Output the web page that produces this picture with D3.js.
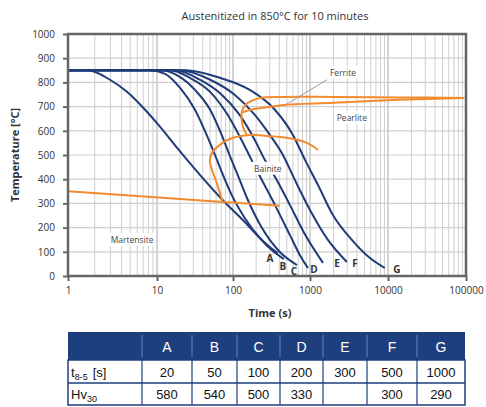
<!DOCTYPE html>
<html>
<head>
<meta charset="utf-8">
<script src="https://cdn.jsdelivr.net/npm/d3@7/dist/d3.min.js"></script>
<style>
  body { margin: 0; background: #fff; }
  svg { display: block; }
</style>
</head>
<body>
<div id="chart"></div>
<script>
// cooling curves, [time s, temperature °C]
const curveA = [[1,850],[1.67,850],[2.96,811],[4.6,761],[7,695],[11,616],[18.4,529],[36.7,418],[73,314],[142,223],[223,157],[320,112],[383,95]];
const curveB = [[1,850],[8.4,850],[12.8,835],[20,778],[31.6,687],[45,583],[58,500],[71,430],[96,335],[142,240],[223,157],[330,103],[458,70]];
const curveC = [[1,850],[11,850],[19,827],[31.6,769],[50,687],[71,583],[90,500],[115,418],[156,314],[237,199],[406,99],[677,45]];
const curveD = [[1,850],[15,850],[27,819],[50,761],[85,666],[129,562],[174,480],[237,397],[350,294],[547,170],[737,87],[942,33]];
const curveE = [[1,850],[17.4,850],[36.7,811],[71,749],[122,666],[192,562],[259,480],[370,397],[547,294],[866,170],[1466,54]];
const curveF = [[1,850],[20,850],[50,811],[105,749],[192,666],[301,583],[445,500],[636,397],[1000,273],[1700,149],[2970,58]];
const curveG = [[1,850],[23.5,850],[67,819],[165,769],[350,687],[600,583],[861,480],[1266,376],[1966,252],[3440,149],[5870,74],[9100,33]];
const curveNames = ['A','B','C','D','E','F','G'];

// transformation lines
const martensite = [[1,350],[73,306],[406,290]];
const bainite = [[73,306],[61,385],[53,438],[49.6,480],[54,513],[67,542],[99,571],[165,583],[275,579],[501,571],[913,550],[1266,521]];
const ferrite = [[95000,736],[14000,738],[2000,740],[450,740],[230,736],[175,724],[150,712],[135,692],[129,670],[130,640],[137,610],[150,585]];
const pearlite = [[95000,736],[14000,728],[2000,716],[450,707],[275,697],[165,686],[132,676]];

const regionNames = ['Martensite','Bainite','Pearlite','Ferrite'];
const regionPos = [[5.25,149],[283,443],[3440,653],[2650,840]];
const ferritePointer = [[1650,811],[502,711]];

const xTicks = [1,10,100,1000,10000,100000];
const yTicks = [0,100,200,300,400,500,600,700,800,900,1000];

// table
const t85 = ['20','50','100','200','300','500','1000'];
const hv30 = ['580','540','500','330','','300','290'];

const W = 486, H = 407;
const plot = {left: 68, right: 466, top: 34, bottom: 276};

const svg = d3.select('#chart').append('svg')
    .attr('width', W)
    .attr('height', H);

// the original axis is not evenly spaced, so one range stop per decade
const x = d3.scaleLog()
    .domain(xTicks)
    .range([68, 157, 233, 310, 388, 466]);
const y = d3.scaleLinear()
    .domain([0, 1000])
    .range([plot.bottom, plot.top]);

// grid
let minor = [];
for (let d = 1; d < 100000; d *= 10) {
    for (let k = 2; k <= 9; k++) minor.push(d * k);
}
const grid = svg.append('g');
grid.selectAll('.vminor')
    .data(minor)
    .join('line')
    .attr('x1', d => x(d)).attr('x2', d => x(d))
    .attr('y1', plot.top).attr('y2', plot.bottom)
    .attr('stroke', '#d0d0d0').attr('stroke-width', 1);
grid.selectAll('.vmajor')
    .data(xTicks.slice(1, -1))
    .join('line')
    .attr('x1', d => x(d)).attr('x2', d => x(d))
    .attr('y1', plot.top).attr('y2', plot.bottom)
    .attr('stroke', '#c4c4c4').attr('stroke-width', 1.5);
grid.selectAll('.h')
    .data(yTicks.slice(1, -1))
    .join('line')
    .attr('x1', plot.left).attr('x2', plot.right)
    .attr('y1', d => y(d)).attr('y2', d => y(d))
    .attr('stroke', '#d0d0d0').attr('stroke-width', 1.2);

// curves
const line = d3.line()
    .x(d => x(d[0]))
    .y(d => y(d[1]))
    .curve(d3.curveMonotoneX);
const loop = d3.line()
    .x(d => x(d[0]))
    .y(d => y(d[1]))
    .curve(d3.curveCatmullRom.alpha(0.5));

const blue = '#1f3b78', orange = '#f28a2e';
const curves = [curveA, curveB, curveC, curveD, curveE, curveF, curveG];
svg.append('g').selectAll('path')
    .data(curves)
    .join('path')
    .attr('d', line)
    .attr('fill', 'none')
    .attr('stroke', blue)
    .attr('stroke-width', 2);

const og = svg.append('g').attr('fill', 'none').attr('stroke', orange).attr('stroke-width', 2);
og.append('path').datum(martensite).attr('d', loop);
og.append('path').datum(bainite).attr('d', loop);
og.append('path').datum(ferrite).attr('d', loop);
og.append('path').datum(pearlite).attr('d', loop);

// pointer to ferrite
svg.append('line')
    .attr('x1', x(ferritePointer[0][0])).attr('y1', y(ferritePointer[0][1]))
    .attr('x2', x(ferritePointer[1][0])).attr('y2', y(ferritePointer[1][1]))
    .attr('stroke', '#999').attr('stroke-width', 1);

// region labels with white boxes
const reg = svg.append('g')
    .attr('font-family', 'Open Sans, sans-serif')
    .attr('font-size', 8.5)
    .attr('fill', '#444');
regionNames.forEach((name, i) => {
    const cx = x(regionPos[i][0]), cy = y(regionPos[i][1]);
    const t = reg.append('text')
        .attr('x', cx).attr('y', cy + 3)
        .attr('text-anchor', 'middle')
        .text(name);
    const b = t.node().getBBox();
    reg.insert('rect', 'text:last-child')
        .attr('x', b.x - 2).attr('y', b.y - 1)
        .attr('width', b.width + 4).attr('height', b.height + 2)
        .attr('fill', '#fff');
});

// curve letters
const letterOffset = [[-8,5],[-1,7],[-3,6],[6,1],[14,0],[8,1],[12,1]];
svg.append('g')
    .attr('font-family', 'Open Sans, sans-serif')
    .attr('font-size', 10)
    .attr('font-weight', 'bold')
    .attr('fill', '#333')
    .selectAll('text')
    .data(curves)
    .join('text')
    .attr('x', (d, i) => x(d[d.length - 1][0]) + letterOffset[i][0])
    .attr('y', (d, i) => y(d[d.length - 1][1]) + letterOffset[i][1] + 4)
    .attr('text-anchor', 'middle')
    .text((d, i) => curveNames[i]);

// frame
svg.append('rect')
    .attr('x', plot.left).attr('y', plot.top)
    .attr('width', plot.right - plot.left).attr('height', plot.bottom - plot.top)
    .attr('fill', 'none').attr('stroke', '#666').attr('stroke-width', 2.5);

// axes
const yAxis = svg.append('g')
    .attr('transform', `translate(${plot.left},0)`)
    .call(d3.axisLeft(y).tickValues(yTicks).tickFormat(d3.format('d')).tickSize(5).tickPadding(8));
const xAxis = svg.append('g')
    .attr('transform', `translate(0,${plot.bottom})`)
    .call(d3.axisBottom(x).tickValues(xTicks).tickFormat(d3.format('d')).tickSize(5).tickPadding(6));
[xAxis, yAxis].forEach(a => {
    a.select('.domain').remove();
    a.selectAll('line').attr('stroke', '#666').attr('stroke-width', 2);
    a.selectAll('text')
        .attr('font-family', 'Open Sans, sans-serif')
        .attr('font-size', 10)
        .attr('fill', '#333');
});

// titles
svg.append('text')
    .attr('x', 275).attr('y', 20)
    .attr('text-anchor', 'middle')
    .attr('font-family', 'Open Sans, sans-serif')
    .attr('font-size', 11)
    .attr('fill', '#333')
    .text('Austenitized in 850°C for 10 minutes');
svg.append('text')
    .attr('x', 270).attr('y', 317)
    .attr('text-anchor', 'middle')
    .attr('font-family', 'Open Sans, sans-serif')
    .attr('font-size', 11)
    .attr('font-weight', 'bold')
    .attr('fill', '#333')
    .text('Time (s)');
svg.append('text')
    .attr('transform', 'translate(19,155) rotate(-90)')
    .attr('text-anchor', 'middle')
    .attr('font-family', 'Open Sans, sans-serif')
    .attr('font-size', 11)
    .attr('font-weight', 'bold')
    .attr('fill', '#333')
    .text('Temperature [°C]');

// table
const colEdges = [68, 142, 192, 237, 280, 323, 367, 417, 465];
const rowEdges = [332, 360, 383, 405];
const navy = '#1d3f7d';
const tb = svg.append('g').attr('font-family', 'Liberation Sans, Arial, sans-serif');
tb.append('rect')
    .attr('x', colEdges[0]).attr('y', rowEdges[0])
    .attr('width', colEdges[8] - colEdges[0]).attr('height', rowEdges[1] - rowEdges[0])
    .attr('fill', navy);
tb.append('rect')
    .attr('x', colEdges[0]).attr('y', rowEdges[1])
    .attr('width', colEdges[8] - colEdges[0]).attr('height', rowEdges[3] - rowEdges[1])
    .attr('fill', '#fff').attr('stroke', navy).attr('stroke-width', 1.5);
tb.append('line')
    .attr('x1', colEdges[0]).attr('x2', colEdges[8])
    .attr('y1', rowEdges[2]).attr('y2', rowEdges[2])
    .attr('stroke', navy).attr('stroke-width', 1.5);
tb.selectAll('.vsep')
    .data(colEdges.slice(1, -1))
    .join('line')
    .attr('x1', d => d).attr('x2', d => d)
    .attr('y1', rowEdges[1]).attr('y2', rowEdges[3])
    .attr('stroke', navy).attr('stroke-width', 1.2);
tb.selectAll('.hsep')
    .data(colEdges.slice(1, -1))
    .join('line')
    .attr('x1', d => d).attr('x2', d => d)
    .attr('y1', rowEdges[0] + 3).attr('y2', rowEdges[1] - 3)
    .attr('stroke', '#6f86b3').attr('stroke-width', 1);

const mid = i => (colEdges[i + 1] + colEdges[i + 2]) / 2;
tb.selectAll('.hd')
    .data(curveNames)
    .join('text')
    .attr('x', (d, i) => mid(i)).attr('y', rowEdges[1] - 8)
    .attr('text-anchor', 'middle')
    .attr('font-size', 14)
    .attr('fill', '#fff')
    .text(d => d);
tb.selectAll('.r1')
    .data(t85)
    .join('text')
    .attr('x', (d, i) => mid(i)).attr('y', rowEdges[2] - 6)
    .attr('text-anchor', 'middle')
    .attr('font-size', 13)
    .attr('fill', '#111')
    .text(d => d);
tb.selectAll('.r2')
    .data(hv30)
    .join('text')
    .attr('x', (d, i) => mid(i)).attr('y', rowEdges[3] - 6)
    .attr('text-anchor', 'middle')
    .attr('font-size', 13)
    .attr('fill', '#111')
    .text(d => d);

const l1 = tb.append('text').attr('x', 71).attr('y', rowEdges[2] - 6).attr('font-size', 13).attr('fill', '#111');
l1.append('tspan').text('t');
l1.append('tspan').attr('font-size', 9).attr('dy', 3).text('8-5');
l1.append('tspan').attr('dy', -3).attr('dx', 5).text('[s]');
const l2 = tb.append('text').attr('x', 71).attr('y', rowEdges[3] - 6).attr('font-size', 13).attr('fill', '#111');
l2.append('tspan').text('Hv');
l2.append('tspan').attr('font-size', 9).attr('dy', 3).text('30');
</script>
</body>
</html>
